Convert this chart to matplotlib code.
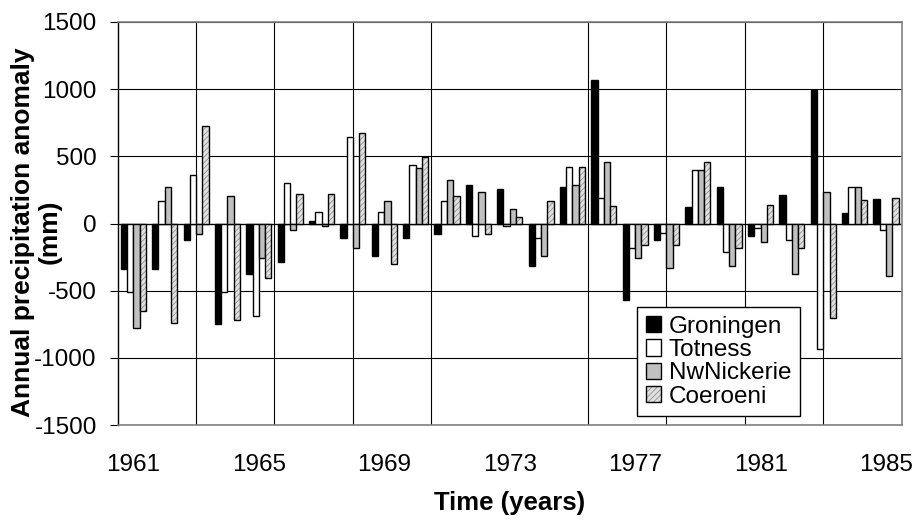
import matplotlib
matplotlib.use("Agg")
import matplotlib.pyplot as plt
import numpy as np
from matplotlib.legend_handler import HandlerTuple

plt.rcParams['font.family'] = ['Liberation Sans', 'DejaVu Sans']
plt.rcParams['hatch.linewidth'] = 0.6
plt.rcParams['axes.unicode_minus'] = False

years = list(range(1961, 1986))
groningen = [-335, -335, -124, -749, -377, -288, 17, -107, -243, -109, -79, 288, 255,
             -317, 268, 1070, -570, -120, 120, 270, -94, 211, 995, 79, 181]
totness = [-508, 166, 360, -508, -687, 298, 89, 642, 89, 434, 164, -94, -20,
           -106, 418, 191, -181, -70, 400, -210, -31, -120, -937, 268, -45]
nwnickerie = [-778, 268, -77, 208, -254, -48, -20, -181, 164, 414, 327, 238, 105,
              -241, 283, 461, -255, -329, 400, -314, -137, -374, 237, 268, -388]
coeroeni = [-655, -742, 729, -717, -403, 222, 223, 670, -303, 494, 208, -79, 45,
            165, 418, 133, -163, -163, 460, -181, 134, -181, -700, 178, 193]
xtick_years = [1961, 1965, 1969, 1973, 1977, 1981, 1985]

W, H = 920, 520
fig = plt.figure(figsize=(W / 100, H / 100), dpi=100)
ax = fig.add_axes([117.7 / W, 1 - 425 / H, (901.7 - 117.7) / W, (425 - 22) / H])

x = np.arange(len(years))
w = 0.2
lw = 1.0
b0 = ax.bar(x - 1.5 * w, groningen, w, color='black', edgecolor='black', linewidth=lw, zorder=3)
b1 = ax.bar(x - 0.5 * w, totness, w, color='white', edgecolor='black', linewidth=lw, zorder=3)
b2 = ax.bar(x + 0.5 * w, nwnickerie, w, color='#c0c0c0', edgecolor='black', linewidth=lw, zorder=3)
b3f = ax.bar(x + 1.5 * w, coeroeni, w, color='#e0e0e0', edgecolor='#909090', linewidth=0,
             hatch='//////', zorder=3)
b3e = ax.bar(x + 1.5 * w, coeroeni, w, color='none', edgecolor='black', linewidth=lw, zorder=4)

ax.set_xlim(-0.5, len(years) - 0.5)
ax.set_ylim(-1500, 1500)
ax.set_yticks(np.arange(-1500, 1501, 500))
ax.set_xticks([years.index(y) for y in xtick_years])
ax.set_xticklabels([str(y) for y in xtick_years])
ax.set_xticks(np.arange(2, 24, 2.5), minor=True)

ax.grid(axis='y', which='major', color='black', linewidth=0.8, zorder=1)
ax.grid(axis='x', which='minor', color='black', linewidth=0.8, zorder=1)
ax.grid(axis='x', which='major', visible=False)
ax.axhline(0, color='black', linewidth=0.9, zorder=2)

ax.tick_params(axis='y', direction='out', length=6, width=0.8, labelsize=17.5, pad=9)
ax.tick_params(axis='x', which='both', length=0, labelsize=17.5, pad=21)

for s in ['top', 'right', 'bottom']:
    ax.spines[s].set_color('#808080')
    ax.spines[s].set_linewidth(1.2)
ax.spines['left'].set_color('black')
ax.spines['left'].set_linewidth(1.0)

ax.set_xlabel('Time (years)', fontsize=18.5, fontweight='bold', labelpad=10.5)

# y label as two lines (placed separately, as in the reference)
fig.text(23 / W, 1 - 232 / H, 'Annual precipitation anomaly', rotation=90,
         rotation_mode='anchor', ha='center', va='center', fontsize=19, fontweight='bold')
fig.text(50 / W, 1 - 232 / H, '(mm)', rotation=90,
         rotation_mode='anchor', ha='center', va='center', fontsize=19, fontweight='bold')

leg = ax.legend([b0, b1, b2, (b3f, b3e)], ['Groningen', 'Totness', 'NwNickerie', 'Coeroeni'],
                handler_map={tuple: HandlerTuple(ndivide=1, pad=0)},
                loc='upper left', bbox_to_anchor=(637 / W, 1 - 307 / H),
                bbox_transform=fig.transFigure, borderaxespad=0, fontsize=17.5,
                handlelength=0.65, handleheight=0.65, handletextpad=0.3,
                labelspacing=0.06, borderpad=0.35, fancybox=False, framealpha=1,
                edgecolor='black')
leg.get_frame().set_linewidth(1.0)
leg.set_zorder(10)

fig.savefig('out.png', dpi=100)
